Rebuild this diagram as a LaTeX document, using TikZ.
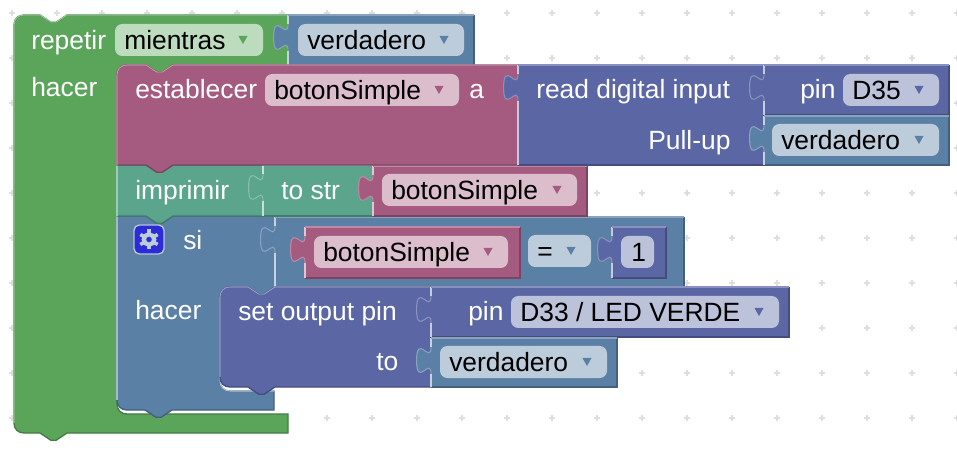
\documentclass[tikz,border=0pt]{standalone}
\usepackage{fontspec}
\setmainfont{Liberation Sans}

\definecolor{loopgreen}{HTML}{5BA55B}
\definecolor{varmaroon}{HTML}{A55B80}
\definecolor{textteal}{HTML}{5BA58C}
\definecolor{logicblue}{HTML}{5B80A5}
\definecolor{pinpurple}{HTML}{5B67A5}
\definecolor{gearblue}{HTML}{2B2BD9}

\tikzset{
    blocktext/.style={anchor=base west, inner sep=0pt, text=white, font=\fontsize{19.8}{24}\selectfont},
    fieldtext/.style={anchor=base west, inner sep=0pt, text=black, font=\fontsize{19.8}{24}\selectfont},
    gridmark/.style={black!13, line width=1pt},
    lightedge/.style={line width=0.8pt},
    darkedge/.style={line width=1pt}
}

% connection shapes, going along the current point
\def\notchr{-- ++(10.8,7.2) -- ++(5.4,0) -- ++(10.8,-7.2)}
\def\notchl{-- ++(-10.8,7.2) -- ++(-5.4,0) -- ++(-10.8,-7.2)}
\def\tabup{.. controls +(0,-18) and +(0,27.9) .. ++(-14.4,-13.5) .. controls +(0,-27.9) and +(0,18) .. ++(14.4,-13.5)}

% colour, left, top, right, bottom
\newcommand{\valueblock}[5]{
    \fill[#1] (#2,#5) -- (#2,#3+36) \tabup -- (#2,#3) -- (#4,#3) -- (#4,#5) -- cycle;
    \draw[#1!75!black, darkedge] (#4,#3) -- (#4,#5) -- (#2,#5);
    \draw[#1!72!white, lightedge] (#2,#3+36) \tabup;
    \draw[#1!35!white, lightedge] (#2,#5) -- (#2,#3+36);
    \draw[#1!35!white, lightedge] (#2,#3+9) -- (#2,#3);
    \draw[#1!72!white, lightedge] (#2,#3) -- (#4,#3);
}
% name, left, top, right, colour, text
\newcommand{\dropfield}[6]{
    \fill[#5!40!white, rounded corners=5.5pt] (#2,#3) rectangle (#4,#3+32);
    \fill[#5] (#4-24.5,#3+12) -- (#4-15.5,#3+12) -- (#4-20,#3+20) -- cycle;
    \node[fieldtext] (#1) at (#2+9,#3+26) {#6};
}

\begin{document}
\begin{tikzpicture}[x=0.75pt, y=-0.75pt]
    \fill[white] (0,0) rectangle (957,452);
    \useasboundingbox (0,0) rectangle (957,452);

    % Workspace grid
    \foreach \i in {0,...,21} {
        \foreach \j in {0,...,9} {
            \draw[gridmark] (12+45*\i-3,13+45*\j) -- (12+45*\i+3,13+45*\j);
            \draw[gridmark] (12+45*\i,13+45*\j-3) -- (12+45*\i,13+45*\j+3);
        }
    }

    % Repeat block
    \draw[fill=loopgreen, draw=loopgreen!75!black, darkedge] (14,25) .. controls (14,19) and (18,15) .. (24,15) -- (40,15) \notchr -- (288,15) -- (288,65) -- (173,65) \notchl -- (127,65) .. controls (121,65) and (117,69) .. (117,75) -- (117,404) .. controls (117,410) and (121,414) .. (127,414) -- (288,414) -- (288,433) -- (67,433) \notchl -- (24,433) .. controls (18,433) and (14,429) .. (14,423) -- cycle;
    \draw[loopgreen!65!white, lightedge] (14,423) -- (14,25) .. controls (14,19) and (18,15) .. (24,15) -- (40,15) \notchr -- (287,15);
    \node[blocktext] (repetir) at (31,50) {repetir};
    \node[blocktext] (hacerloop) at (31,97) {hacer};
    \dropfield{mientras}{115}{24}{263}{loopgreen}{mientras}
    \valueblock{logicblue}{288}{15}{474}{65}
    \dropfield{verdaderoloop}{298}{24}{464}{logicblue}{verdadero}

    % If block
    \draw[fill=logicblue, draw=logicblue!75!black, darkedge] (117,216) -- (146,216) \notchr -- (275,216) -- (275,287) \notchl -- (230,287) .. controls (224,287) and (220,291) .. (220,297) -- (220,381) .. controls (220,387) and (224,391) .. (230,391) -- (274,391) -- (274,410) -- (172,410) \notchl -- (127,410) .. controls (121,410) and (117,406) .. (117,400) -- cycle;
    \draw[logicblue!55!white, lightedge] (117,400) -- (117,216);
    \draw[logicblue!45!white, lightedge] (220,297) -- (220,381) .. controls (220,387) and (224,391) .. (230,391) -- (274,391);
    \draw[fill=gearblue, rounded corners=4pt, draw=logicblue!45!white, line width=1pt] (134,225) rectangle (164,254);
    \foreach \a in {30,90,...,330} {
        \draw[logicblue!40!white, line width=2.7pt] (149,239.5) ++(\a:6) -- ++(\a:4);
    }
    \draw[logicblue!40!white, line width=3.2pt] (149,239.5) circle (5.2);
    \node[blocktext] (si) at (183,250) {si};
    \node[blocktext] (hacerif) at (135,320) {hacer};

    % Comparison
    \valueblock{logicblue}{275}{217}{684}{287}
    \valueblock{varmaroon}{305}{227}{520}{278}
    \dropfield{botoncompare}{314}{236}{508}{varmaroon}{botonSimple}
    \dropfield{igual}{528}{235}{591}{logicblue}{=}
    \valueblock{pinpurple}{612}{227}{666}{278}
    \fill[pinpurple!40!white, rounded corners=5.5pt] (621,236) rectangle (654,268);
    \node[fieldtext] (uno) at (631,262) {1};

    % Set output pin
    \draw[fill=pinpurple, draw=pinpurple!75!black, darkedge] (220,297) .. controls (220,291) and (224,287) .. (230,287) -- (248,287) \notchr -- (431,287) -- (431,387) -- (275,387) \notchl -- (230,387) .. controls (224,387) and (220,383) .. (220,377) -- cycle;
    \draw[pinpurple!65!white, lightedge] (220,377) -- (220,297) .. controls (220,291) and (224,287) .. (230,287) -- (248,287) \notchr -- (431,287);
    \node[blocktext] (setoutput) at (238,321) {set output pin};
    \node[blocktext] (tolabel) at (376,371) {to};
    \valueblock{pinpurple}{431}{287}{789}{337}
    \node[blocktext] (pinled) at (468,321) {pin};
    \dropfield{ledverde}{511}{296}{779}{pinpurple}{D33 / LED VERDE}
    \valueblock{logicblue}{431}{338}{617}{387}
    \dropfield{verdaderoled}{440}{346}{607}{logicblue}{verdadero}

    % Print block
    \draw[fill=textteal, draw=textteal!75!black, darkedge] (117,165) -- (146,165) \notchr -- (263,165) -- (263,216) -- (173,216) \notchl -- (117,216) -- cycle;
    \draw[textteal!60!white, lightedge] (117,216) -- (117,165);
    \node[blocktext] (imprimir) at (135,200) {imprimir};
    \valueblock{textteal}{263}{165}{373}{216}
    \node[blocktext] (tostr) at (281,200) {to str};
    \valueblock{varmaroon}{373}{166}{587}{216}
    \dropfield{botonprint}{382}{174}{577}{varmaroon}{botonSimple}

    % Assignment block
    \draw[fill=varmaroon, draw=varmaroon!75!black, darkedge] (117,75) .. controls (117,69) and (121,65) .. (127,65) -- (146,65) \notchr -- (518,65) -- (518,165) -- (173,165) \notchl -- (117,165) -- cycle;
    \draw[varmaroon!65!white, lightedge] (117,165) -- (117,75) .. controls (117,69) and (121,65) .. (127,65) -- (146,65) \notchr -- (518,65);
    \node[blocktext] (establecer) at (135,99) {establecer};
    \dropfield{botonset}{265}{74}{459}{varmaroon}{botonSimple}
    \node[blocktext] (alabel) at (469,99) {a};

    % Digital input
    \valueblock{pinpurple}{518}{65}{764}{165}
    \node[blocktext] (readinput) at (536,99) {read digital input};
    \node[blocktext] (pullup) at (648,150) {Pull-up};
    \valueblock{pinpurple}{764}{65}{949}{115}
    \node[blocktext] (pinread) at (800,99) {pin};
    \dropfield{desetentaycinco}{843}{74}{939}{pinpurple}{D35}
    \valueblock{logicblue}{764}{116}{949}{165}
    \dropfield{verdaderopull}{772}{124}{939}{logicblue}{verdadero}
\end{tikzpicture}
\end{document}
